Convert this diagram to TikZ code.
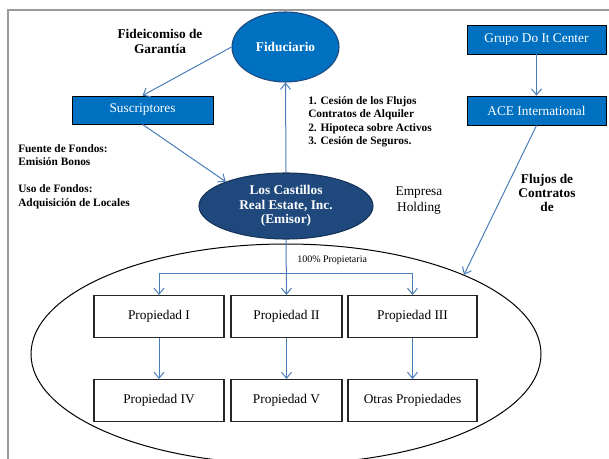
\documentclass[tikz,border=0pt]{standalone}
\usepackage{fontspec}
\setmainfont{Liberation Serif}
\usetikzlibrary{shapes.geometric,arrows.meta}
\definecolor{brightblue}{HTML}{0070C0}
\definecolor{navy}{HTML}{1F497D}
\definecolor{linkblue}{HTML}{4A7EBB}
\definecolor{framegray}{HTML}{9A9A9A}
\begin{document}
\begin{tikzpicture}[x=0.75pt,y=-0.75pt,
  link/.style={draw=linkblue, line width=0.75pt, -{Straight Barb[length=4.5pt,width=7.5pt]}},
  plainlink/.style={draw=linkblue, line width=0.75pt},
  bluebox/.style={rectangle, draw=black, line width=0.6pt, fill=brightblue, text=white,
    font=\fontsize{10}{12}\selectfont, inner sep=0pt, minimum width=104.25pt, minimum height=21.75pt},
  propbox/.style={rectangle, draw=black!85, line width=0.8pt, fill=white,
    font=\fontsize{10}{12}\selectfont, inner sep=0pt, minimum height=31.5pt},
  boldnote/.style={font=\fontsize{8.5}{10.2}\selectfont\bfseries, align=left, inner sep=0pt},
  plainnote/.style={font=\fontsize{10}{12}\selectfont, align=center, inner sep=0pt}]
\useasboundingbox (0,0) rectangle (609,459);

% page frame
\draw[framegray, line width=1.5pt] (620,10) -- (8,10) -- (8,470);

% group of properties
\node[ellipse, draw=black, line width=0.75pt, minimum width=382.5pt, minimum height=165pt, inner sep=0pt] (grp) at (286,354) {};

% top level entities
\node[ellipse, draw=navy, line width=0.8pt, fill=brightblue, text=white, inner sep=0pt,
  minimum width=80.25pt, minimum height=52.5pt, font=\fontsize{10}{12}\selectfont\bfseries] (fid) at (285.5,47) {Fiduciario};
\node[bluebox, minimum width=105.75pt, minimum height=21pt] (susc) at (142.5,110) {Suscriptores};
\node[ellipse, draw=navy!70!black, line width=0.8pt, fill=navy, text=white, inner sep=0pt, align=center,
  minimum width=130.5pt, minimum height=49.5pt, font=\fontsize{10}{11}\selectfont\bfseries] (cast) at (286,206)
  {Los Castillos\\Real Estate, Inc.\\(Emisor)};
\node[bluebox] (grupo) at (536.5,39.5) {Grupo Do It Center};
\node[bluebox] (ace) at (536.5,110.5) {ACE International};

% properties
\node[propbox, minimum width=97.5pt]  (p1) at (159,316.5) {Propiedad I};
\node[propbox, minimum width=83.25pt] (p2) at (286.5,316.5) {Propiedad II};
\node[propbox, minimum width=96.75pt] (p3) at (412.5,316.5) {Propiedad III};
\node[propbox, minimum width=97.5pt]  (p4) at (159,400.5) {Propiedad IV};
\node[propbox, minimum width=83.25pt] (p5) at (286.5,400.5) {Propiedad V};
\node[propbox, minimum width=96.75pt] (p6) at (412.5,400.5) {Otras Propiedades};

% labels
\node[boldnote, align=center, font=\fontsize{10}{11.25}\selectfont\bfseries] (fidlab) at (160,41) {Fideicomiso de\\Garantía};
\node[boldnote, anchor=north west] (garant) at (308,96)
  {1. Cesión de los Flujos\\Contratos de Alquiler\\2. Hipoteca sobre Activos\\3. Cesión de Seguros.};
\node[boldnote, anchor=north west] (fondos) at (18,144)
  {Fuente de Fondos:\\Emisión Bonos\\[10.2pt]Uso de Fondos:\\Adquisición de Locales};
\node[plainnote, font=\fontsize{10}{12}\selectfont] (holding) at (419,201) {Empresa\\Holding};
\node[plainnote, font=\fontsize{10}{10.5}\selectfont\bfseries] (flujos) at (547,193) {Flujos de\\Contratos\\de};
\node[font=\fontsize{7.5}{9}\selectfont, anchor=west, inner sep=0pt] (pct) at (297,260) {100\% Propietaria};

% connectors
\draw[link] (fid.west) -- (susc.north);
\draw[link] (susc.south) -- (cast.158);
\draw[link] (cast.north) -- (fid.south);
\draw[link] (grupo.south) -- (ace.south |- ace.north);
\draw[link] (ace.south) -- (grp.24);

\coordinate (bus) at (286,273);
\draw[link] (cast.south) -- (p2.north);
\draw[link] (bus) -| (p1.north);
\draw[link] (bus) -| (p3.north);

\draw[link] (p1.south) -- (p4.north);
\draw[link] (p2.south) -- (p5.north);
\draw[link] (p3.south) -- (p6.north);
\end{tikzpicture}
\end{document}
